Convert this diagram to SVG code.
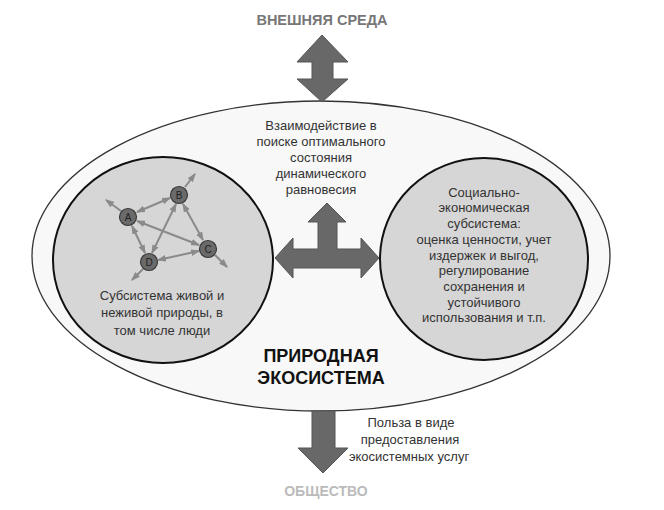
<svg xmlns="http://www.w3.org/2000/svg" width="664" height="510" viewBox="0 0 664 510">
<defs>
<style>
.t{font-family:"Liberation Sans",Arial,sans-serif;font-size:13px;fill:#333;text-anchor:middle}
.h{font-family:"Liberation Sans",Arial,sans-serif;font-weight:bold;text-anchor:middle}
.big{fill:#686868;stroke:#555;stroke-width:1}
.edge{stroke:#8a8a8a;stroke-width:2;fill:none;marker-end:url(#ah)}
.dbl{marker-start:url(#ah)}
.nd{fill:#6a6a6a;stroke:#3a3a3a;stroke-width:1.2}
.nl{font-family:"Liberation Sans",Arial,sans-serif;font-size:10px;fill:#222;text-anchor:middle}
.sub{fill:#d6d6d6;stroke:#111;stroke-width:2}
</style>
<marker id="ah" viewBox="0 0 8 6" refX="7" refY="3" markerWidth="9" markerHeight="7" markerUnits="userSpaceOnUse" orient="auto-start-reverse">
<path d="M0,0 L8,3 L0,6 z" fill="#8a8a8a"/>
</marker>
</defs>
<rect width="664" height="510" fill="#fff"/>

<g id="env">
<text class="h" x="322" y="25" font-size="14.5" fill="#777">ВНЕШНЯЯ СРЕДА</text>
</g>

<g id="ecosystem">
<ellipse cx="321" cy="256" rx="289" ry="155" fill="#f8f8f8" stroke="#333" stroke-width="1.3"/>
<text class="t" x="321" y="130">Взаимодействие в</text>
<text class="t" x="321" y="146">поиске оптимального</text>
<text class="t" x="321" y="162">состояния</text>
<text class="t" x="321" y="178">динамического</text>
<text class="t" x="321" y="194">равновесия</text>
<text class="h" x="321" y="362" font-size="18" fill="#111">ПРИРОДНАЯ</text>
<text class="h" x="321" y="384" font-size="18" fill="#111">ЭКОСИСТЕМА</text>
</g>

<g id="natural-subsystem">
<ellipse class="sub" cx="163" cy="260" rx="110" ry="103"/>
<text class="t" x="162" y="300">Субсистема живой и</text>
<text class="t" x="162" y="317">неживой природы, в</text>
<text class="t" x="162" y="335">том числе люди</text>
</g>

<g id="socio-economic-subsystem">
<ellipse class="sub" cx="484" cy="259" rx="104" ry="101"/>
<text class="t" x="484" y="197">Социально-</text>
<text class="t" x="484" y="212">экономическая</text>
<text class="t" x="484" y="228">субсистема:</text>
<text class="t" x="484" y="244">оценка ценности, учет</text>
<text class="t" x="484" y="260">издержек и выгод,</text>
<text class="t" x="484" y="275">регулирование</text>
<text class="t" x="484" y="291">сохранения и</text>
<text class="t" x="484" y="307">устойчивого</text>
<text class="t" x="484" y="322">использования и т.п.</text>
</g>

<g id="society">
<text class="h" x="326" y="496" font-size="14" fill="#bbb">ОБЩЕСТВО</text>
<text class="t" x="411" y="427">Польза в виде</text>
<text class="t" x="410" y="444">предоставления</text>
<text class="t" x="409" y="461">экосистемных услуг</text>
</g>

<g id="connectors">
<polygon class="big" points="322,35 348,62 333,62 333,79 348,79 322,102 297,79 312,79 312,62 297,62"/>
<polygon class="big" points="327,203 346,222 337,222 337,249 361,249 361,238 379,258 361,278 361,268 293,268 293,278 275,258 293,238 293,249 318,249 318,222 308,222"/>
<polygon class="big" points="312,411 335,411 335,448 348,448 323,473 298,448 312,448"/>
<line class="edge dbl" x1="137" y1="212" x2="170" y2="198"/>
<line class="edge dbl" x1="137" y1="221" x2="199" y2="245"/>
<line class="edge dbl" x1="132" y1="226" x2="145" y2="253"/>
<line class="edge dbl" x1="176" y1="204" x2="152" y2="253"/>
<line class="edge dbl" x1="183" y1="204" x2="203" y2="240"/>
<line class="edge dbl" x1="158" y1="260" x2="199" y2="251"/>
<line class="edge" x1="121" y1="211" x2="106" y2="200"/>
<line class="edge" x1="185" y1="187" x2="195" y2="174"/>
<line class="edge" x1="215" y1="255" x2="227" y2="267"/>
<line class="edge" x1="143" y1="269" x2="132" y2="280"/>
</g>

<g id="node-A"><circle class="nd" cx="128" cy="217" r="8.5"/><text class="nl" x="128" y="220.5">A</text></g>
<g id="node-B"><circle class="nd" cx="179" cy="195" r="8.5"/><text class="nl" x="179" y="198.5">B</text></g>
<g id="node-C"><circle class="nd" cx="208" cy="249" r="8.5"/><text class="nl" x="208" y="252.5">C</text></g>
<g id="node-D"><circle class="nd" cx="149" cy="262" r="8.5"/><text class="nl" x="149" y="265.5">D</text></g>
</svg>
